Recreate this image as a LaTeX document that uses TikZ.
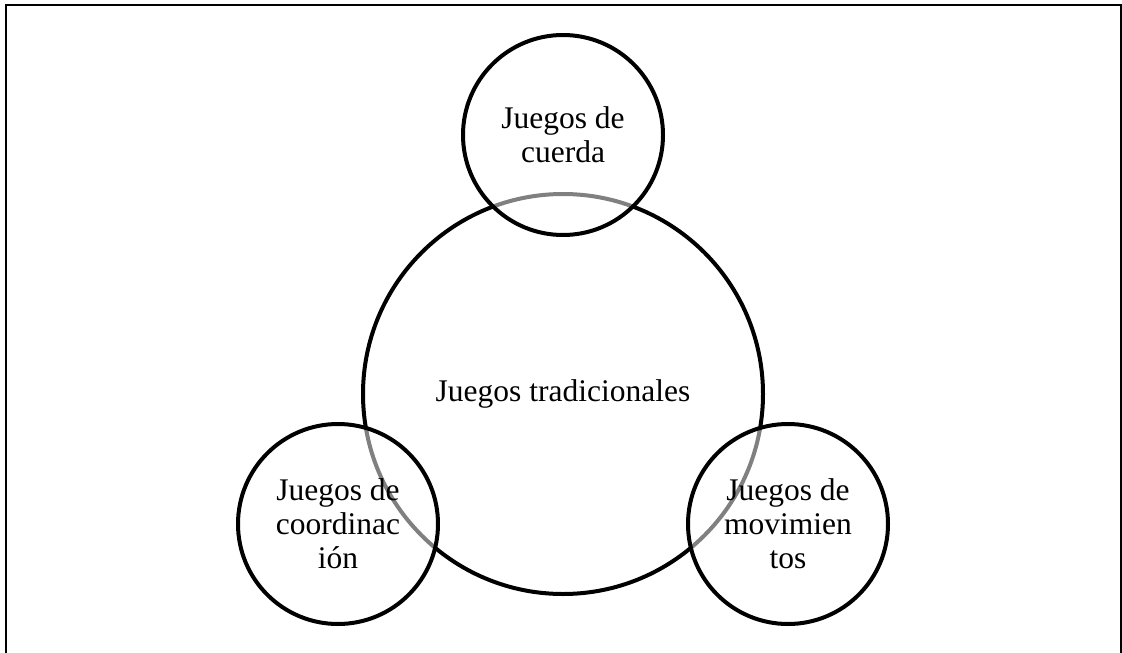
\documentclass[tikz,border=0pt]{standalone}
\usepackage{fontspec}
\setmainfont{Liberation Serif}
\begin{document}
\begin{tikzpicture}[x=1pt,y=-1pt,
  bigc/.style={circle, draw=black, line width=4pt, minimum size=400pt, inner sep=0pt,
    font=\fontsize{31.5}{34}\selectfont},
  smallc/.style={circle, draw=black, line width=4pt, minimum size=200pt, inner sep=0pt,
    fill=white, fill opacity=0.5, draw opacity=1, text opacity=1, align=center,
    font=\fontsize{31.5}{34}\selectfont},
  frame/.style={draw=black, line width=2pt}]
\clip (0,0) rectangle (1122,653);
\fill[white] (0,0) rectangle (1122,653);
\draw[frame] (6,670) -- (6,5) -- (1121,5) -- (1121,670);
\node[bigc] (main) at (563,394) {Juegos tradicionales};
\node[smallc] (top) at (563,135) {Juegos de\\cuerda};
\node[smallc] (left) at (338,524) {Juegos de\\coordinac\\ión};
\node[smallc] (right) at (788,524) {Juegos de\\movimien\\tos};
\end{tikzpicture}
\end{document}
